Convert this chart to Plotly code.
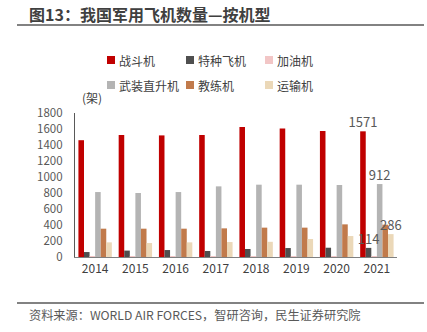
import plotly.graph_objects as go

# 年份与各机型数量（架）
years = ["2014", "2015", "2016", "2017", "2018", "2019", "2020", "2021"]
fighters = [1460, 1525, 1520, 1525, 1625, 1605, 1575, 1571]
special = [62, 80, 87, 75, 100, 112, 116, 114]
tankers = [3, 3, 3, 3, 3, 3, 3, 3]
helicopters = [812, 800, 812, 883, 904, 904, 900, 912]
trainers = [354, 354, 354, 358, 367, 367, 408, 404]
transports = [183, 175, 183, 187, 190, 225, 262, 286]

series_names = ["战斗机", "特种飞机", "加油机", "武装直升机", "教练机", "运输机"]
series_values = [fighters, special, tankers, helicopters, trainers, transports]
series_colors = ["#C00000", "#4F4F4F", "#F2C6C6", "#B4B4B4", "#C17A4B", "#EBD8B8"]
# 仅在2021年标注数值的系列
labelled = {"战斗机", "特种飞机", "武装直升机", "运输机"}

y_ticks = [0, 200, 400, 600, 800, 1000, 1200, 1400, 1600, 1800]

W, H = 427, 332
L, R, T, B = 75, 30, 113, 75
PW, PH = W - L - R, H - T - B


def px(x):
    return (x - L) / PW


def py(y):
    return (H - B - y) / PH


CJK = "Noto Sans CJK SC"
fig = go.Figure()

# 柱形
for name, vals, color in zip(series_names, series_values, series_colors):
    fig.add_trace(go.Bar(
        x=years, y=vals, name=name, marker=dict(color=color, line=dict(width=0)),
        showlegend=False, hoverinfo="skip",
    ))

# 数值标签放在叠加坐标轴上，保证位于所有柱形之上
for name, vals in zip(series_names, series_values):
    text = [""] * (len(vals) - 1) + [str(vals[-1])] if name in labelled else [""] * len(vals)
    fig.add_trace(go.Bar(
        x=years, y=vals, xaxis="x2", marker=dict(color="rgba(0,0,0,0)", line=dict(width=0)),
        text=text, textposition="outside", constraintext="none", cliponaxis=False,
        textfont=dict(family=CJK, size=13, color="#595959"),
        showlegend=False, hoverinfo="skip",
    ))

fig.update_layout(
    width=W, height=H, margin=dict(l=L, r=R, t=T, b=B),
    paper_bgcolor="white", plot_bgcolor="white",
    barmode="group", bargap=0.17, bargroupgap=0,
    font=dict(family=CJK, color="#404040"),
    xaxis=dict(
        showline=True, linecolor="#7F7F7F", linewidth=1.3, ticks="",
        tickfont=dict(family=CJK, size=12, color="#404040"), showgrid=False,
    ),
    xaxis2=dict(overlaying="x", matches="x", visible=False),
    yaxis=dict(
        range=[0, 1800], tickvals=y_ticks, showline=True, linecolor="#595959",
        linewidth=1.3, ticks="", showgrid=False, zeroline=False,
        tickfont=dict(family=CJK, size=11.5, color="#595959"), ticklabelstandoff=9,
    ),
)

annotations = [
    dict(x=px(27), y=py(14), text="<b>图13：我国军用飞机数量—按机型</b>",
         xanchor="left", yanchor="middle", font=dict(size=16, color="#404040")),
    dict(x=px(27), y=py(315), text="资料来源：WORLD AIR FORCES，智研咨询，民生证券研究院",
         xanchor="left", yanchor="middle", font=dict(size=12.2, color="#595959")),
    dict(x=px(80), y=py(97), text="(架)", xanchor="left", yanchor="middle",
         font=dict(size=12, color="#404040")),
]
shapes = [
    dict(type="line", xref="paper", yref="paper", x0=px(17), x1=px(424), y0=py(25), y1=py(25),
         line=dict(color="#595959", width=1.5)),
    dict(type="line", xref="paper", yref="paper", x0=px(17), x1=px(424), y0=py(303), y1=py(303),
         line=dict(color="#595959", width=1.5)),
]

# 图例：两行三列
col_x = [107, 186, 265]
row_y = [60, 85]
for i, (name, color) in enumerate(zip(series_names, series_colors)):
    cx, cy = col_x[i % 3], row_y[i // 3]
    shapes.append(dict(type="rect", xref="paper", yref="paper",
                       x0=px(cx), x1=px(cx + 8), y0=py(cy + 4), y1=py(cy - 4),
                       fillcolor=color, line=dict(width=0)))
    annotations.append(dict(x=px(cx + 10), y=py(cy), text=name, xanchor="left",
                            yanchor="middle", font=dict(size=12, color="#404040")))

for a in annotations:
    a.update(xref="paper", yref="paper", showarrow=False)

fig.update_layout(annotations=annotations, shapes=shapes)
fig.write_html("out.html")
